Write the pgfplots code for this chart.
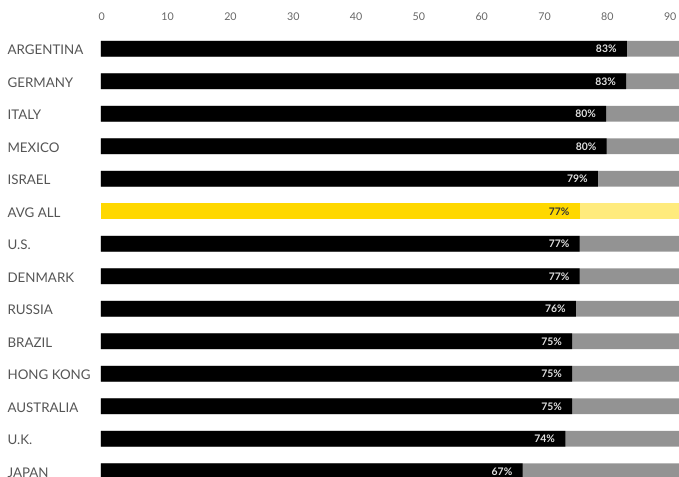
\documentclass[border=0pt]{standalone}
\usepackage{fontspec}
\setmainfont{Lato}
\usepackage{pgfplots}
\usepackage{pgfplotstable}
\pgfplotsset{compat=1.18}

\definecolor{barblack}{HTML}{000000}
\definecolor{bargray}{HTML}{939393}
\definecolor{avgyellow}{HTML}{FFD800}
\definecolor{avglight}{HTML}{FFEB7D}
\definecolor{labelgray}{HTML}{555555}
\definecolor{tickgray}{HTML}{666666}

% row, value, total, label
\pgfplotstableread{
row val total lab
0  83.7 100 83\%
1  83.6 100 83\%
2  80.4 100 80\%
3  80.5 100 80\%
4  79.1 100 79\%
6  76.2 100 77\%
7  76.2 100 77\%
8  75.6 100 76\%
9  75.0 100 75\%
10 75.0 100 75\%
11 75.0 100 75\%
12 73.9 100 74\%
13 67.1 100 67\%
}\countries

\pgfplotstableread{
row val total lab
5  76.2 100 77\%
}\avgall

\begin{document}
\begin{tikzpicture}
\path[use as bounding box] (-75.75pt,0) rectangle (433.5pt,357pt);
\begin{axis}[
    at={(0,0)}, anchor=south west,
    scale only axis,
    width=433.5pt, height=334.5pt,
    xbar, bar width=11.8pt, bar shift=0pt,
    xmin=0, xmax=92, ymin=-0.578, ymax=13.145,
    y dir=reverse,
    axis line style={draw=none},
    tick style={draw=none},
    xtick={0,10,...,90},
    xticklabel pos=upper,
    /pgf/number format/assume math mode=true,
    xticklabel style={font=\fontsize{8}{9}\selectfont, text=tickgray,
        anchor=west, inner sep=0pt, xshift=-2pt, yshift=10pt},
    ytick={0,...,13},
    yticklabels={ARGENTINA,GERMANY,ITALY,MEXICO,ISRAEL,AVG ALL,U.S.,DENMARK,RUSSIA,BRAZIL,HONG KONG,AUSTRALIA,U.K.,JAPAN},
    yticklabel style={font=\fontsize{10}{12}\selectfont, text=labelgray,
        anchor=west, inner sep=0pt, xshift=-66pt, yshift=-1pt},
    point meta=explicit symbolic,
    nodes near coords style={font=\bfseries\fontsize{7.8}{9}\selectfont,
        anchor=east, inner sep=0pt, xshift=-7.5pt},
]
\addplot[fill=bargray, draw=none] table[x=total, y=row] {\countries};
\addplot[fill=avglight, draw=none] table[x=total, y=row] {\avgall};
\addplot[fill=barblack, draw=none, nodes near coords,
    every node near coord/.append style={text=white!88!black}]
    table[x=val, y=row, meta=lab] {\countries};
\addplot[fill=avgyellow, draw=none, nodes near coords,
    every node near coord/.append style={text=black!80}]
    table[x=val, y=row, meta=lab] {\avgall};
\end{axis}
\end{tikzpicture}
\end{document}
